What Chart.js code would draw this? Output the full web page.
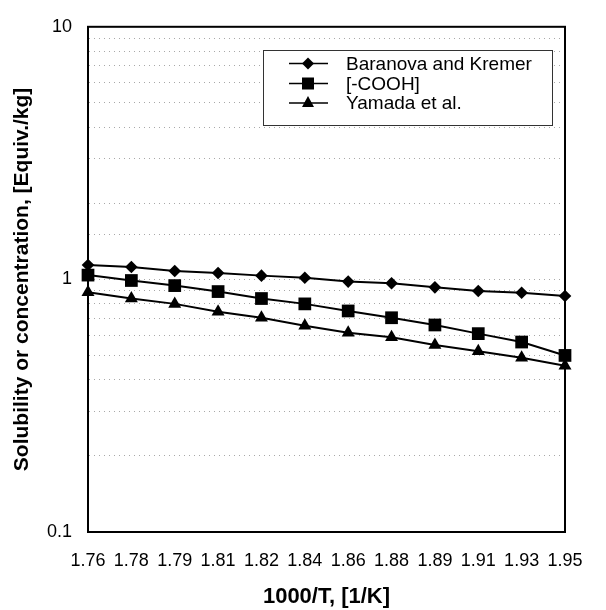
<!DOCTYPE html>
<html>
<head>
<meta charset="utf-8">
<script src="https://cdn.jsdelivr.net/npm/chart.js@4"></script>
<style>
  html, body { margin: 0; padding: 0; background: #fff; }
  #wrap { width: 606px; height: 610px; }
</style>
</head>
<body>
<div id="wrap"><canvas id="sol" width="606" height="610"></canvas></div>
<script>
var xLabels = ["1.76", "1.78", "1.79", "1.81", "1.82", "1.84", "1.86", "1.88", "1.89", "1.91", "1.93", "1.95"];
var baranova = [1.14, 1.12, 1.08, 1.06, 1.035, 1.015, 0.98, 0.965, 0.93, 0.90, 0.886, 0.86];
var cooh = [1.04, 0.99, 0.945, 0.895, 0.84, 0.80, 0.75, 0.705, 0.66, 0.61, 0.565, 0.50];
var yamada = [0.89, 0.84, 0.80, 0.745, 0.705, 0.655, 0.615, 0.59, 0.55, 0.52, 0.49, 0.455];
var seriesNames = ["Baranova and Kremer", "[-COOH]", "Yamada et al."];
var yLabels = [0.1, 1, 10];

var FONT = "'Liberation Sans', Arial, sans-serif";

// frame round the plot area and legend box inside it
var framePlugin = {
  id: "frame",
  afterDraw: function(chart) {
    var ctx = chart.ctx, a = chart.chartArea;
    ctx.save();
    ctx.strokeStyle = "#000";
    ctx.lineWidth = 2;
    ctx.strokeRect(a.left, a.top, a.right - a.left, a.bottom - a.top);

    // legend
    var bx = 263, by = 50, bw = 289, bh = 75;
    ctx.fillStyle = "#fff";
    ctx.fillRect(bx, by, bw, bh);
    ctx.lineWidth = 1;
    ctx.strokeStyle = "#333";
    ctx.strokeRect(bx + 0.5, by + 0.5, bw, bh);
    var shapes = ["rectRot", "rect", "triangle"];
    var rows = [63.5, 83.5, 103];
    ctx.font = "19px " + FONT;
    ctx.textBaseline = "middle";
    for (var i = 0; i < 3; i++) {
      var y = rows[i];
      ctx.strokeStyle = "#000";
      ctx.lineWidth = 1.5;
      ctx.beginPath();
      ctx.moveTo(289, y);
      ctx.lineTo(328, y);
      ctx.stroke();
      ctx.fillStyle = "#000";
      ctx.beginPath();
      if (shapes[i] == "rectRot") {
        ctx.moveTo(308, y - 6); ctx.lineTo(314, y); ctx.lineTo(308, y + 6); ctx.lineTo(302, y);
      } else if (shapes[i] == "rect") {
        ctx.rect(302, y - 6, 12, 12);
      } else {
        ctx.moveTo(308, y - 7); ctx.lineTo(314, y + 4); ctx.lineTo(302, y + 4);
      }
      ctx.closePath();
      ctx.fill();
      ctx.fillText(seriesNames[i], 346, y + 1);
    }
    ctx.restore();
  }
};

var canvas = document.getElementById("sol");
var sol = new Chart(canvas, {
  type: "line",
  data: {
    labels: xLabels,
    datasets: [
      { label: seriesNames[0], data: baranova, pointStyle: "rectRot", pointRadius: 6.3 },
      { label: seriesNames[1], data: cooh, pointStyle: "rect", pointRadius: 9 },
      { label: seriesNames[2], data: yamada, pointStyle: "triangle", pointRadius: 7.5 }
    ].map(function(d) {
      d.borderColor = "#000";
      d.backgroundColor = "#000";
      d.borderWidth = 2;
      d.pointBorderWidth = 0;
      d.tension = 0;
      d.clip = false;
      return d;
    })
  },
  options: {
    responsive: false,
    animation: false,
    layout: { padding: { left: 0, right: 41, top: 22, bottom: 0 } },
    plugins: { legend: { display: false }, tooltip: { enabled: false } },
    scales: {
      x: {
        offset: false,
        grid: { display: false, drawTicks: false },
        border: { color: "#000", width: 2 },
        ticks: {
          color: "#000",
          padding: 18,
          maxRotation: 0,
          autoSkip: false,
          font: { family: FONT, size: 18 }
        },
        title: {
          display: true,
          text: "1000/T, [1/K]",
          color: "#000",
          padding: { top: 0, bottom: 0 },
          font: { family: FONT, size: 22, weight: "bold" }
        },
        afterFit: function(s) { s.height = 78; }
      },
      y: {
        type: "logarithmic",
        min: 0.1,
        max: 10,
        grid: {
          drawTicks: false,
          color: "#a8a8a8",
          lineWidth: 1
        },
        border: { color: "#000", width: 2, dash: [1, 4] },
        ticks: {
          color: "#000",
          padding: 16,
          autoSkip: false,
          font: { family: FONT, size: 18 },
          callback: function(v) {
            for (var i = 0; i < yLabels.length; i++) {
              if (Math.abs(v - yLabels[i]) < 1e-9) return String(yLabels[i]);
            }
            return "";
          }
        },
        title: {
          display: true,
          text: "Solubility or concentration, [Equiv./kg]",
          color: "#000",
          padding: { top: 10, bottom: 0 },
          font: { family: FONT, size: 21, weight: "bold" }
        },
        afterFit: function(s) { s.width = 88; }
      }
    }
  },
  plugins: [framePlugin]
});
</script>
</body>
</html>
